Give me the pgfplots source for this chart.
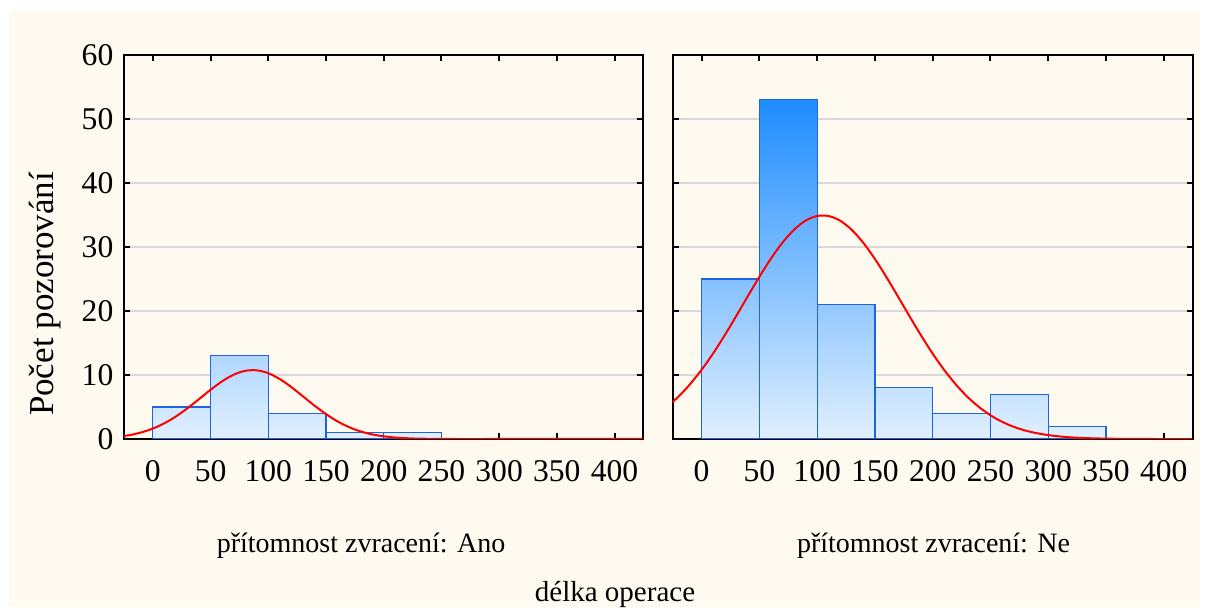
\documentclass[border=0pt]{standalone}
\usepackage{fontspec}
\setmainfont{Liberation Serif}
\usepackage{pgfplots}
\pgfplotsset{compat=1.18}

\definecolor{cream}{RGB}{254,250,239}
\definecolor{gridgray}{RGB}{216,216,216}
\definecolor{barline}{RGB}{30,100,220}
\definecolor{bartop}{RGB}{30,140,255}
\definecolor{barmid}{RGB}{177,215,255}
\definecolor{barbot}{RGB}{225,240,255}

\pgfplotsset{
  hist/.style={
    scale only axis, anchor=south west,
    height=192pt,
    xmin=-25, xmax=425, ymin=0, ymax=60,
    xtick={0,50,...,400}, ytick={0,10,...,60},
    ymajorgrids, grid style={gridgray, line width=1pt},
    tick align=inside, major tick length=3pt,
    every tick/.style={black, line width=1pt},
    axis line style={line width=1pt},
    ticklabel style={font=\fontsize{15.8}{19}\selectfont},
    /pgf/number format/assume math mode=true,
    xticklabel style={yshift=-7.3pt},
    yticklabel style={xshift=-1.8pt},
  },
  normcurve/.style={red, line width=1pt, smooth},
}

\begin{document}
\begin{tikzpicture}
\path[use as bounding box, fill=white] (0,0) rectangle (604pt,307.5pt);
\fill[cream] (4.5pt,4pt) rectangle (600pt,301.5pt);

% pritomnost zvraceni: Ano
\begin{axis}[hist, at={(62pt,88pt)}, width=259.7pt]
\addplot[const plot, draw=none, top color=barmid, bottom color=barbot]
  coordinates {(0,5) (50,13) (100,4) (150,1) (200,1) (250,0)} \closedcycle;
\addplot[ybar interval, draw=barline, fill=none, line width=0.6pt]
  coordinates {(0,5) (50,13) (100,4) (150,1) (200,1) (250,0)};
\addplot[normcurve] coordinates {
  (-30,0.35) (-20,0.61) (-10,1.03) (0,1.63) (10,2.46) (20,3.52) (30,4.81)
  (40,6.23) (50,7.69) (60,9.01) (70,10.05) (80,10.65) (90,10.73) (100,10.28)
  (110,9.36) (120,8.11) (130,6.67) (140,5.22) (150,3.89) (160,2.75) (170,1.85)
  (180,1.18) (190,0.72) (200,0.42) (210,0.23) (220,0.12) (230,0.06) (240,0.03)
  (250,0.01) (260,0) (300,0) (350,0) (400,0) (430,0)};
\end{axis}

% pritomnost zvraceni: Ne
\begin{axis}[hist, at={(336.35pt,88pt)}, width=260pt, yticklabels={}]
\addplot[const plot, draw=none, top color=bartop, bottom color=barbot]
  coordinates {(0,25) (50,53) (100,21) (150,8) (200,4) (250,7) (300,2) (350,0)} \closedcycle;
\addplot[ybar interval, draw=barline, fill=none, line width=0.6pt]
  coordinates {(0,25) (50,53) (100,21) (150,8) (200,4) (250,7) (300,2) (350,0)};
\addplot[normcurve] coordinates {
  (-30,5.02) (-20,6.63) (-10,8.56) (0,10.82) (10,13.38) (20,16.21) (30,19.22)
  (40,22.31) (50,25.34) (60,28.19) (70,30.69) (80,32.70) (90,34.12) (100,34.85)
  (110,34.84) (120,34.10) (130,32.67) (140,30.64) (150,28.13) (160,25.28)
  (170,22.24) (180,19.16) (190,16.15) (200,13.33) (210,10.77) (220,8.52)
  (230,6.59) (240,5.00) (250,3.71) (260,2.69) (270,1.91) (280,1.33) (290,0.91)
  (300,0.61) (310,0.40) (320,0.25) (330,0.16) (340,0.10) (350,0.06) (360,0.03)
  (370,0.02) (380,0.01) (390,0) (430,0)};
\end{axis}

\node[rotate=90, anchor=base, font=\fontsize{17.5}{20}\selectfont] at (26.5pt,160.5pt) {Počet pozorování};
\node[anchor=base, font=\fontsize{14}{17}\selectfont] at (180.5pt,31pt) {přítomnost zvracení: Ano};
\node[anchor=base, font=\fontsize{14}{17}\selectfont] at (466.75pt,31pt) {přítomnost zvracení: Ne};
\node[anchor=base, font=\fontsize{14.5}{17}\selectfont] at (307.5pt,7pt) {délka operace};
\end{tikzpicture}
\end{document}
